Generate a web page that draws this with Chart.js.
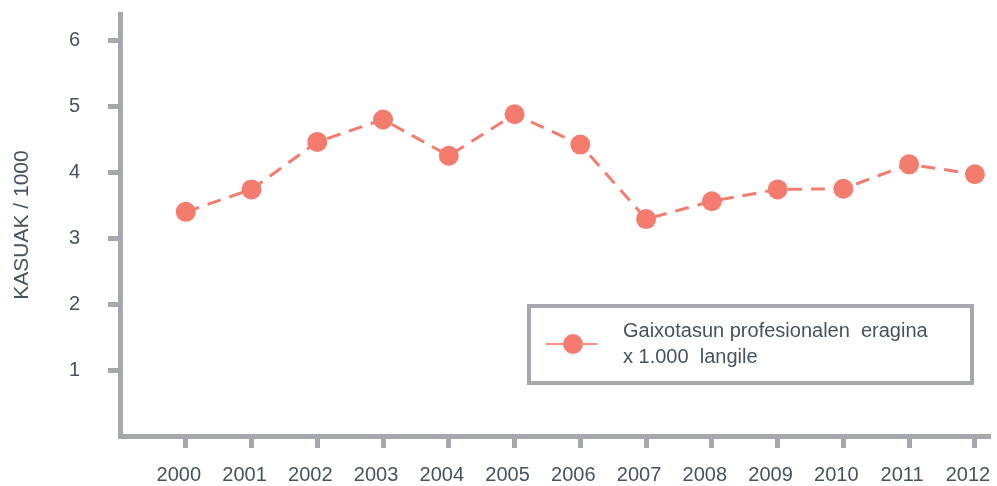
<!DOCTYPE html>
<html>
<head>
<meta charset="utf-8">
<script src="https://cdn.jsdelivr.net/npm/chart.js@4/dist/chart.umd.min.js"></script>
<style>
  html, body { margin: 0; padding: 0; background: #fff; }
  #marco { width: 997px; height: 486px; }
</style>
</head>
<body>
<div id="marco"><canvas id="grafico"></canvas></div>
<script>
// ============ Datos ============
var urteak = [2000, 2001, 2002, 2003, 2004, 2005, 2006, 2007, 2008, 2009, 2010, 2011, 2012];
var eragina = [3.40, 3.74, 4.46, 4.80, 4.25, 4.88, 4.42, 3.29, 3.56, 3.74, 3.75, 4.12, 3.97];
var yTicks = [1, 2, 3, 4, 5, 6];
var legendaLerroak = ["Gaixotasun profesionalen  eragina", "x 1.000  langile"];

var kolorea = "rgb(244, 124, 110)";
var grisa = "#a7a8ab";
var testua = "#46535e";
var letra = "'Liberation Sans', Arial, sans-serif";

// quita el relleno automatico de las etiquetas para fijar el area del grafico
function sinRelleno(s) {
  s.paddingTop = 0;
  s.paddingBottom = 0;
  s.paddingLeft = 0;
  s.paddingRight = 0;
}

// ============ Leyenda dentro del area del grafico ============
var legendaPlugin = {
  id: "legendaPlugin",
  afterDraw: function (chart) {
    var ctx = chart.ctx;
    var a = chart.chartArea;
    var x0 = a.right - 461, y0 = a.bottom - 130, w = 443, h = 77;
    ctx.save();
    ctx.strokeStyle = grisa;
    ctx.lineWidth = 4;
    ctx.strokeRect(x0, y0, w, h);

    var my = y0 + 38;
    ctx.strokeStyle = "rgba(244, 124, 110, 0.85)";
    ctx.lineWidth = 2;
    ctx.beginPath();
    ctx.moveTo(x0 + 17, my);
    ctx.lineTo(x0 + 68, my);
    ctx.stroke();
    ctx.fillStyle = kolorea;
    ctx.beginPath();
    ctx.arc(x0 + 44, my, 10, 0, Math.PI * 2);
    ctx.fill();

    ctx.fillStyle = testua;
    ctx.font = "20px " + letra;
    ctx.textBaseline = "alphabetic";
    ctx.textAlign = "left";
    ctx.fillText(legendaLerroak[0], x0 + 94, y0 + 31);
    ctx.fillText(legendaLerroak[1], x0 + 94, y0 + 57);
    ctx.restore();
  }
};

new Chart(document.getElementById("grafico"), {
  type: "line",
  data: {
    datasets: [{
      label: legendaLerroak.join(" "),
      data: urteak.map(function (u, i) { return { x: u, y: eragina[i] }; }),
      borderColor: kolorea,
      backgroundColor: kolorea,
      borderWidth: 3,
      borderDash: [14, 9],
      pointRadius: 10,
      pointHoverRadius: 10,
      pointBorderWidth: 0,
      tension: 0,
      clip: false
    }]
  },
  options: {
    responsive: true,
    maintainAspectRatio: false,
    animation: false,
    layout: { autoPadding: false, padding: { top: 14, right: 7, left: 0, bottom: 0 } },
    plugins: {
      legend: { display: false },
      tooltip: { enabled: false }
    },
    scales: {
      x: {
        type: "linear",
        min: 1999,
        max: 2012.23,
        afterBuildTicks: function (s) { s.ticks = urteak.map(function (v) { return { value: v }; }); },
        afterFit: function (s) { s.height = 50; sinRelleno(s); },
        border: { color: grisa, width: 5 },
        grid: { drawOnChartArea: false, tickLength: 12, tickWidth: 5, tickColor: grisa },
        ticks: {
          color: testua,
          font: { family: letra, size: 20 },
          padding: 15,
          labelOffset: -7,
          maxRotation: 0,
          autoSkip: false,
          callback: function (v) { return String(v); }
        }
      },
      y: {
        min: 0,
        max: 6.4,
        afterBuildTicks: function (s) { s.ticks = yTicks.map(function (v) { return { value: v }; }); },
        afterFit: function (s) { s.width = 120; sinRelleno(s); },
        border: { color: grisa, width: 5 },
        grid: { drawOnChartArea: false, tickLength: 12, tickWidth: 5, tickColor: grisa },
        ticks: {
          color: testua,
          font: { family: letra, size: 20 },
          padding: 28
        },
        title: {
          display: true,
          text: "KASUAK / 1000",
          color: testua,
          font: { family: letra, size: 21 },
          padding: { top: 10, bottom: 0 }
        }
      }
    }
  },
  plugins: [legendaPlugin]
});
</script>
</body>
</html>
